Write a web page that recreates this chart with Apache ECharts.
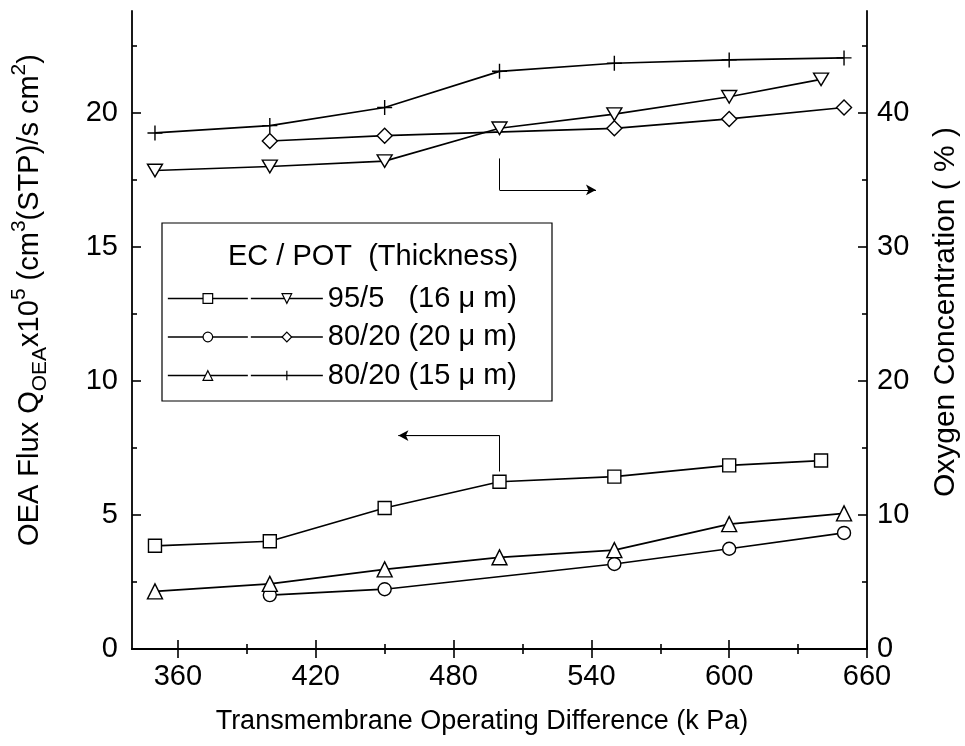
<!DOCTYPE html>
<html><head><meta charset="utf-8">
<script src="https://cdn.jsdelivr.net/npm/echarts@6/dist/echarts.min.js"></script>
<style>html,body{margin:0;padding:0;background:#fff}#c{width:965px;height:746px}</style>
</head><body><div id="c"></div>
<script>
// ---- data ----
const xMajorTicks = [360, 420, 480, 540, 600, 660];
const xMinorTicks = [390, 450, 510, 570, 630];
const yLeftMajor = [0, 5, 10, 15, 20];
const yLeftMinor = [2.5, 7.5, 12.5, 17.5, 22.5];
const yRightMajor = [0, 10, 20, 30, 40];
const yRightMinor = [5, 15, 25, 35, 45];

// OEA flux (left axis)
const x95Flux = [350, 400, 450, 500, 550, 600, 640];
const y95Flux = [3.85, 4.02, 5.26, 6.24, 6.43, 6.85, 7.03];
const x8020aFlux = [400, 450, 550, 600, 650];
const y8020aFlux = [2.01, 2.23, 3.17, 3.74, 4.33];
const x8020bFlux = [350, 400, 450, 500, 550, 600, 650];
const y8020bFlux = [2.15, 2.43, 2.97, 3.42, 3.69, 4.66, 5.06];
// Oxygen concentration (right axis)
const x95O2 = [350, 400, 450, 500, 550, 600, 640];
const y95O2 = [35.7, 36.0, 36.4, 38.85, 39.9, 41.2, 42.5];
const x8020aO2 = [400, 450, 550, 600, 650];
const y8020aO2 = [37.9, 38.3, 38.85, 39.55, 40.4];
const x8020bO2 = [350, 400, 450, 500, 550, 600, 650];
const y8020bO2 = [38.5, 39.05, 40.4, 43.1, 43.7, 43.95, 44.1];

// annotation arrows (data coordinates)
const leftArrow = [[500, 6.62], [500, 7.96], [456, 7.96]];
const rightArrow = [[500, 36.6], [500, 34.25], [542, 34.25]];

const legendHeader = 'EC / POT  (Thickness)';
const names = ['95/5   (16 \u03bc m)', '80/20 (20 \u03bc m)', '80/20 (15 \u03bc m)'];

// ---- chart ----
const FONT = 'Liberation Sans';
const zip = (xs, ys) => xs.map((x, i) => [x, ys[i]]);
const SYM = {
  inv: 'path://M0,0L10,0L5,9Z',
  dia: 'path://M5,0L10,5L5,10L0,5Z',
  plus: 'path://M5,0L5,10M0,5L10,5'
};
function ser(name, xAxisIndex, yAxisIndex, data, symbol, size) {
  return {
    type: 'line', name, xAxisIndex, yAxisIndex, data, symbol, symbolSize: size,
    symbolKeepAspect: true,
    lineStyle: { color: '#000', width: 1.7 },
    itemStyle: { color: '#fff', borderColor: '#000', borderWidth: 1.4 },
    emphasis: { disabled: true }, animation: false, z: 3
  };
}
const series = [
  ser('sq', 0, 0, zip(x95Flux, y95Flux), 'rect', 13),
  ser('ci', 0, 0, zip(x8020aFlux, y8020aFlux), 'circle', 13),
  ser('tr', 0, 0, zip(x8020bFlux, y8020bFlux), 'triangle', 15),
  ser(names[0], 0, 2, zip(x95O2, y95O2), SYM.inv, [15, 14]),
  ser(names[1], 0, 2, zip(x8020aO2, y8020aO2), SYM.dia, 15),
  ser(names[2], 0, 2, zip(x8020bO2, y8020bO2), SYM.plus, 15),
  {
    type: 'line', xAxisIndex: 0, yAxisIndex: 0, data: leftArrow, symbol: 'none',
    lineStyle: { color: '#000', width: 1 }, silent: true, animation: false,
    markLine: { silent: true, symbol: ['none', 'arrow'], symbolSize: [8, 10], animation: false, label: { show: false },
      lineStyle: { color: '#000', width: 1, type: 'solid' },
      data: [[{ coord: leftArrow[1] }, { coord: leftArrow[2] }]] }
  },
  {
    type: 'line', xAxisIndex: 0, yAxisIndex: 2, data: rightArrow.slice(0, 2), symbol: 'none',
    lineStyle: { color: '#000', width: 1 }, silent: true, animation: false,
    markLine: { silent: true, symbol: ['none', 'arrow'], symbolSize: [8, 10], animation: false, label: { show: false },
      lineStyle: { color: '#000', width: 1, type: 'solid' },
      data: [[{ coord: rightArrow[1] }, { coord: rightArrow[2] }]] }
  }
];

const axisLine = { show: true, lineStyle: { color: '#000', width: 1.8 } };
const noLine = { show: false };
function xAx(pos, ticks, len, labels) {
  return {
    type: 'value', min: 340, max: 660, position: pos,
    axisLine: labels === null && len < 8 ? noLine : axisLine,
    splitLine: { show: false },
    axisTick: { show: true, inside: true, length: len, customValues: ticks, lineStyle: { color: '#000', width: 1.6 } },
    axisLabel: labels ? { show: true, customValues: labels, margin: 13, color: '#000', fontSize: 29, fontFamily: FONT } : { show: false }
  };
}
function yAx(pos, max, ticks, len, labels, margin) {
  return {
    type: 'value', min: 0, max: max, position: pos,
    axisLine: labels ? axisLine : noLine,
    splitLine: { show: false },
    axisTick: { show: true, inside: true, length: len, customValues: ticks, lineStyle: { color: '#000', width: 1.6 } },
    axisLabel: labels ? { show: true, customValues: labels, margin: margin, color: '#000', fontSize: 29, fontFamily: FONT } : { show: false }
  };
}

const legendCommon = {
  orient: 'vertical', itemHeight: 12, itemGap: 9.5, selectedMode: false, top: 279,
  textStyle: { color: '#000', fontSize: 29, fontFamily: FONT, lineHeight: 26, padding: [0, 0, 0, 0] },
  itemStyle: { borderWidth: 1.2 }, lineStyle: { width: 1.7 }
};

const option = {
  backgroundColor: '#fff',
  animation: false,
  grid: { left: 132, right: 98, top: 11, bottom: 97, containLabel: false },
  xAxis: [
    xAx('bottom', xMajorTicks, 9, xMajorTicks),
    xAx('bottom', xMinorTicks, 5, null),
    xAx('top', xMajorTicks, 9, false),
    xAx('top', xMinorTicks, 5, null)
  ],
  yAxis: [
    yAx('left', 23.8, yLeftMajor, 9, yLeftMajor, 14),
    yAx('left', 23.8, yLeftMinor, 5, null),
    yAx('right', 47.6, yRightMajor, 9, yRightMajor, 10),
    yAx('right', 47.6, yRightMinor, 5, null)
  ],
  legend: [
    Object.assign({}, legendCommon, { data: ['sq', 'ci', 'tr'], left: 162, itemWidth: 80, formatter: () => ' ' }),
    Object.assign({}, legendCommon, { data: names, left: 245, itemWidth: 72 })
  ],
  graphic: [
    { type: 'rect', z: 1, shape: { x: 162, y: 223, width: 390, height: 178 }, style: { fill: '#fff', stroke: '#000', lineWidth: 1.2 } },
    { type: 'text', z: 5, x: 228, y: 257, style: { text: legendHeader, font: '29px "Liberation Sans"', fill: '#000', verticalAlign: 'middle', align: 'left' } },
    { type: 'text', z: 5, x: 482, y: 722, style: { text: 'Transmembrane Operating Difference (k Pa)', font: '27px "Liberation Sans"', fill: '#000', align: 'center', verticalAlign: 'middle' } },
    { type: 'text', z: 5, x: 946, y: 312, rotation: Math.PI / 2, style: { text: 'Oxygen Concentration ( % )', font: '30px "Liberation Sans"', fill: '#000', align: 'center', verticalAlign: 'middle' } },
    { type: 'text', z: 5, x: 30, y: 300, rotation: Math.PI / 2, style: {
      text: 'OEA Flux Q{sub|OEA}x10{sup|5} (cm{sup|3}(STP)/s cm{sup|2})',
      font: '29px "Liberation Sans"', fill: '#000', align: 'center', verticalAlign: 'middle',
      lineHeight: 42,
      rich: {
        sub: { fontSize: 21, fontFamily: FONT, fill: '#000', verticalAlign: 'bottom', lineHeight: 21 },
        sup: { fontSize: 21, fontFamily: FONT, fill: '#000', verticalAlign: 'top', lineHeight: 21 }
      }
    } }
  ],
  series
};
const chart = echarts.init(document.getElementById('c'), null, { renderer: 'canvas' });
chart.setOption(option);
</script>
</body></html>
